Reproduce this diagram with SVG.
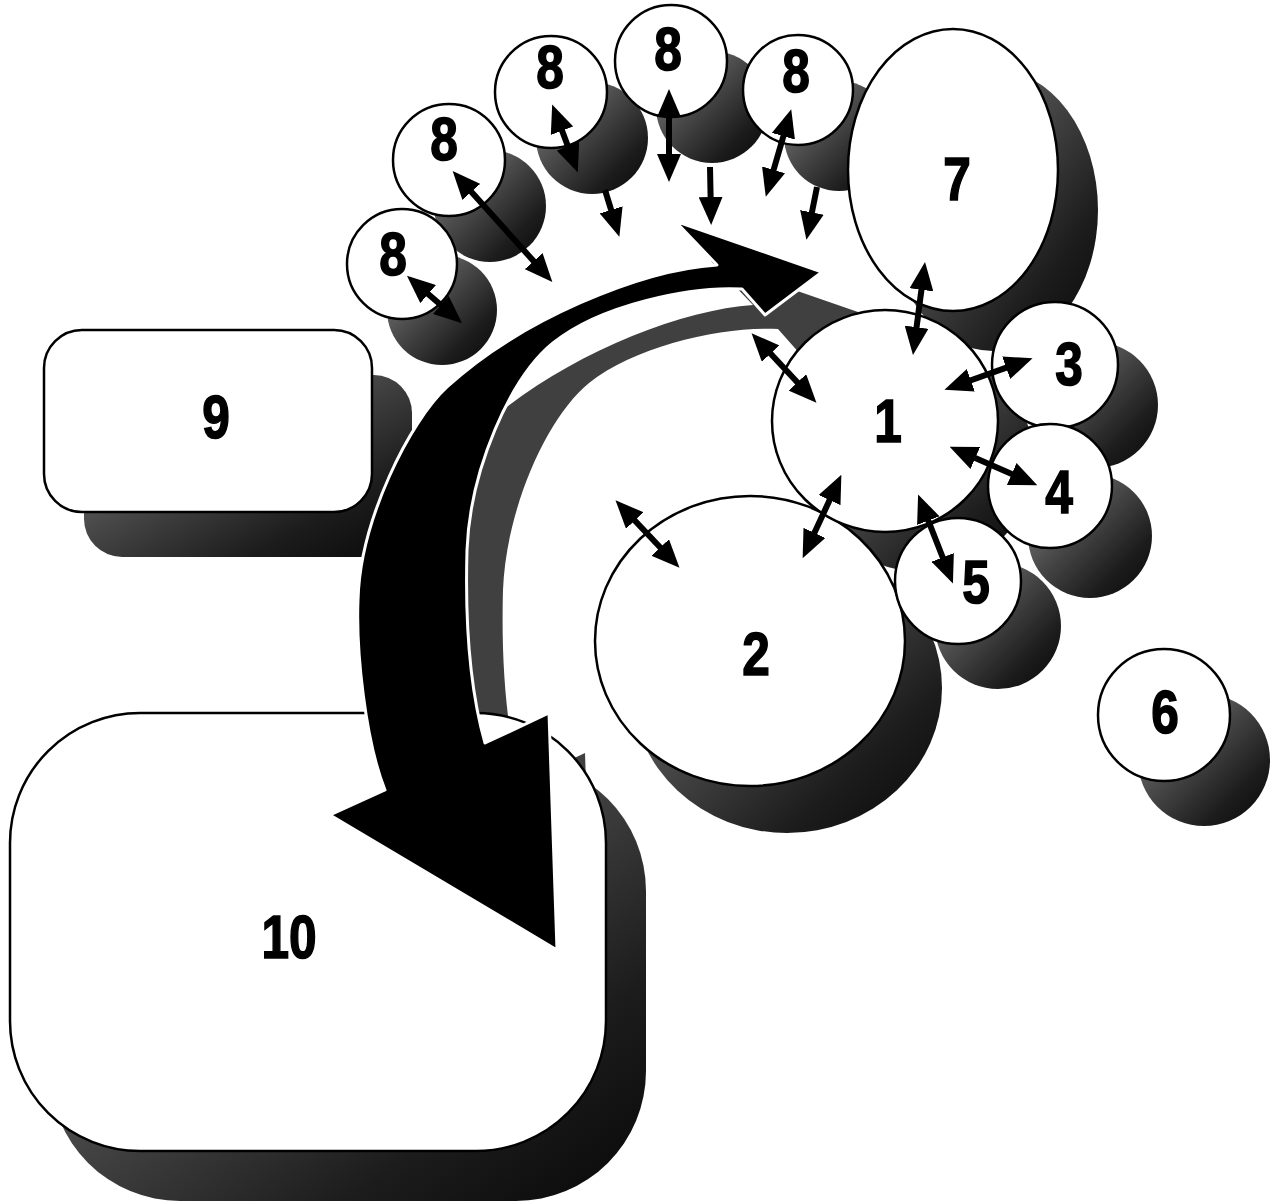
<svg xmlns="http://www.w3.org/2000/svg" width="1271" height="1204" viewBox="0 0 1271 1204">
<style>
.sh{fill:url(#shg)}
.node{fill:#fff;stroke:#000;stroke-width:2.5}
.lbl{font-family:"Liberation Sans","Arial",sans-serif;font-weight:bold;font-size:62px;text-anchor:middle;fill:#000;stroke:#000;stroke-width:1.6}
.con{stroke:#000;stroke-width:6;fill:none}
.dbl{marker-start:url(#ah);marker-end:url(#ah)}
.sgl{marker-end:url(#ah)}
</style>
<defs>
<linearGradient id="shg" x1="0" y1="0" x2="1" y2="1">
<stop offset="0" stop-color="#8a8a8a"/>
<stop offset="0.42" stop-color="#4a4a4a"/>
<stop offset="0.75" stop-color="#1c1c1c"/>
<stop offset="1" stop-color="#080808"/>
</linearGradient>
<marker id="ah" viewBox="0 0 28 24" refX="20" refY="12" markerWidth="28" markerHeight="24" markerUnits="userSpaceOnUse" orient="auto-start-reverse">
<path d="M0,0 L28,12 L0,24 z" fill="#000"/>
</marker>
<path id="bigarrow" d="M717,265 L675,221 L822,272 L765,315 L742,289 C690,286 600,305 553,343 C510,378 470,470 467,550 C465,620 470,690 485,743 L549,713 L557,950 L330,815 L385,790 C365,740 356,650 358,600 C360,520 410,421 447,387 C520,320 640,270 717,265 Z"/>
</defs>
<rect width="1271" height="1204" fill="#fff"/>

<g id="shadows">
<use href="#bigarrow" transform="translate(36,40)" fill="#404040"/>
<rect class="sh" x="50" y="761" width="596" height="440" rx="130"/>
<rect class="sh" x="84" y="375" width="328" height="182" rx="38"/>
<ellipse class="sh" cx="787" cy="688" rx="155" ry="145"/>
<ellipse class="sh" cx="921" cy="461" rx="113" ry="111"/>
<ellipse class="sh" cx="993" cy="210" rx="105" ry="141"/>
<circle class="sh" cx="1095" cy="405" r="63"/>
<circle class="sh" cx="1090" cy="536" r="62"/>
<circle class="sh" cx="998" cy="626" r="63"/>
<circle class="sh" cx="1204" cy="760" r="66"/>
<circle class="sh" cx="490" cy="206" r="56"/>
<circle class="sh" cx="442" cy="310" r="55"/>
<circle class="sh" cx="592" cy="138" r="56"/>
<circle class="sh" cx="712" cy="107" r="56"/>
<circle class="sh" cx="839" cy="136" r="55"/>
</g>

<g id="node10"><rect class="node" x="10" y="713" width="596" height="438" rx="130"/><text class="lbl" transform="translate(289,958) scale(0.8,1)">10</text></g>
<g id="node9"><rect class="node" x="44" y="330" width="328" height="182" rx="38"/><text class="lbl" transform="translate(216,438) scale(0.8,1)">9</text></g>
<g id="node2"><ellipse class="node" cx="750" cy="641" rx="155" ry="145"/><text class="lbl" transform="translate(756,675) scale(0.8,1)">2</text></g>
<g id="node1"><ellipse class="node" cx="885" cy="421" rx="113" ry="111"/><text class="lbl" transform="translate(888,442) scale(0.8,1)">1</text></g>
<g id="node3"><circle class="node" cx="1055" cy="365" r="63"/><text class="lbl" transform="translate(1069,385) scale(0.8,1)">3</text></g>
<g id="node4"><circle class="node" cx="1050" cy="486" r="62"/><text class="lbl" transform="translate(1059,513) scale(0.8,1)">4</text></g>
<g id="node5"><circle class="node" cx="958" cy="581" r="63"/><text class="lbl" transform="translate(976,603) scale(0.8,1)">5</text></g>
<g id="node6"><circle class="node" cx="1164" cy="715" r="66"/><text class="lbl" transform="translate(1165,733) scale(0.8,1)">6</text></g>
<g id="node8b"><circle class="node" cx="449" cy="160" r="56"/><text class="lbl" transform="translate(444,160) scale(0.8,1)">8</text></g>
<g id="node8a"><circle class="node" cx="402" cy="264" r="55"/><text class="lbl" transform="translate(393,275) scale(0.8,1)">8</text></g>
<g id="node8c"><circle class="node" cx="551" cy="92" r="56"/><text class="lbl" transform="translate(550,88) scale(0.8,1)">8</text></g>
<g id="node8d"><circle class="node" cx="671" cy="61" r="56"/><text class="lbl" transform="translate(668,70) scale(0.8,1)">8</text></g>
<g id="node8e"><circle class="node" cx="798" cy="90" r="55"/><text class="lbl" transform="translate(796,92) scale(0.8,1)">8</text></g>
<g id="node7"><ellipse class="node" cx="953" cy="170" rx="105" ry="141"/><text class="lbl" transform="translate(957,200) scale(0.8,1)">7</text></g>

<g id="connectors">
<use href="#bigarrow" fill="#000" stroke="#fff" stroke-width="3" stroke-linejoin="round"/>
<line class="con dbl" x1="924" y1="270" x2="914" y2="347"/>
<line class="con dbl" x1="952" y1="387" x2="1025" y2="361"/>
<line class="con dbl" x1="957" y1="450" x2="1030" y2="482"/>
<line class="con dbl" x1="921" y1="502" x2="950" y2="576"/>
<line class="con dbl" x1="838" y1="482" x2="806" y2="551"/>
<line class="con dbl" x1="757" y1="339" x2="811" y2="397"/>
<line class="con dbl" x1="621" y1="506" x2="674" y2="562"/>
<line class="con dbl" x1="413" y1="281" x2="456" y2="318"/>
<line class="con dbl" x1="458" y1="177" x2="547" y2="276"/>
<line class="con dbl" x1="555" y1="112" x2="575" y2="165"/>
<line class="con sgl" x1="605" y1="190" x2="617" y2="229"/>
<line class="con dbl" x1="669" y1="97" x2="669" y2="174"/>
<line class="con sgl" x1="710" y1="167" x2="711" y2="217"/>
<line class="con dbl" x1="789" y1="117" x2="768" y2="189"/>
<line class="con sgl" x1="817" y1="187" x2="808" y2="232"/>
</g>
</svg>
